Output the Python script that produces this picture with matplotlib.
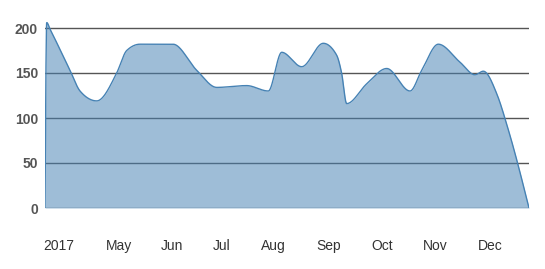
import numpy as np
import matplotlib
matplotlib.use("Agg")
import matplotlib.pyplot as plt

OUT_PNG = "out.png"

# x in month units (May = 5 ... Dec = 12)
MONTH_X = [3.609, 3.641, 3.710, 4.080, 4.269, 4.584, 4.960, 5.149, 5.399,
           6.021, 6.468, 6.845, 7.410, 7.817, 8.070, 8.446, 8.853, 9.103,
           9.198, 9.294, 9.671, 10.048, 10.487, 10.708, 11.020, 11.429,
           11.712, 11.868, 12.121, 12.339, 12.729]
VALUES = [0, 206, 198, 153, 130, 119, 150, 175, 182,
          182, 153, 134, 136, 130, 173, 157, 183, 170,
          150, 116, 138, 155, 130, 153, 182, 162,
          148, 152, 127, 87, 0]

TICK_X = [3.87, 5.0, 6.01, 6.94, 7.91, 8.95, 9.97, 10.97, 12.0]
TICK_LABELS = ["2017", "May", "Jun", "Jul", "Aug", "Sep", "Oct", "Nov", "Dec"]
Y_TICKS = [0, 50, 100, 150, 200]

FILL = "#4682b4"
GRID = "#555555"


def monotone_x(x, y, n=3000):
    # monotone cubic (same idea as d3.curveMonotoneX)
    x = np.asarray(x, float)
    y = np.asarray(y, float)
    h = np.diff(x)
    s = np.diff(y) / h
    m = np.zeros_like(y)
    for i in range(1, len(x) - 1):
        p = (s[i - 1] * h[i] + s[i] * h[i - 1]) / (h[i - 1] + h[i])
        m[i] = (np.sign(s[i - 1]) + np.sign(s[i])) * min(abs(s[i - 1]), abs(s[i]), 0.5 * abs(p))
    m[0] = (3 * s[0] - m[1]) / 2
    m[-1] = (3 * s[-1] - m[-2]) / 2
    xs = np.linspace(x[0], x[-1], n)
    idx = np.clip(np.searchsorted(x, xs) - 1, 0, len(h) - 1)
    t = (xs - x[idx]) / h[idx]
    h00 = 2 * t**3 - 3 * t**2 + 1
    h10 = t**3 - 2 * t**2 + t
    h01 = -2 * t**3 + 3 * t**2
    h11 = t**3 - t**2
    ys = h00 * y[idx] + h10 * h[idx] * m[idx] + h01 * y[idx + 1] + h11 * h[idx] * m[idx + 1]
    return xs, ys


plt.rcParams["font.family"] = ["Liberation Sans", "DejaVu Sans"]

fig = plt.figure(figsize=(5.45, 2.69), dpi=100)
ax = fig.add_axes([45 / 545, 61 / 269, 484 / 545, 198 / 269])

for yv in Y_TICKS:
    ax.axhline(yv, color=GRID, lw=1.0, zorder=1)

xs, ys = monotone_x(MONTH_X, VALUES)
ax.fill_between(xs, 0, ys, color=FILL, alpha=0.52, lw=0, zorder=2)
ax.plot(xs, ys, color=FILL, lw=1.0, zorder=3)

ax.set_xlim(MONTH_X[0], MONTH_X[-1])
ax.set_ylim(0, 220)

ax.set_xticks(TICK_X)
ax.set_xticklabels(TICK_LABELS)
ax.set_yticks(Y_TICKS)
ax.tick_params(axis="x", length=0, pad=22, labelsize=10, labelcolor="#333333")
ax.tick_params(axis="y", length=0, pad=5, labelsize=10, labelcolor="#555555")
for lab in ax.get_yticklabels():
    lab.set_fontweight("bold")

for sp in ax.spines.values():
    sp.set_visible(False)

fig.savefig(OUT_PNG, dpi=100)
